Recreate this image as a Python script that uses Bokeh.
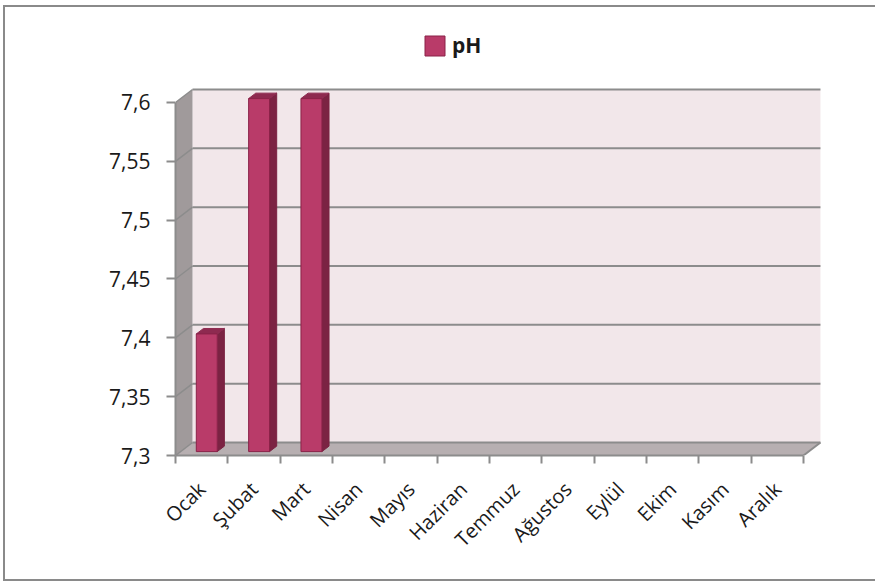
import math
from bokeh.plotting import figure
from bokeh.models import Range1d, FixedTicker, Legend, LegendItem
from bokeh.embed import file_html
from bokeh.resources import INLINE

# ---- data ----
months = ["Ocak", "Şubat", "Mart", "Nisan", "Mayıs", "Haziran", "Temmuz",
          "Ağustos", "Eylül", "Ekim", "Kasım", "Aralık"]
ph_values = [7.4, 7.6, 7.6, None, None, None, None, None, None, None, None, None]
y_ticks = [7.3, 7.35, 7.4, 7.45, 7.5, 7.55, 7.6]
y_tick_labels = ["7,3", "7,35", "7,4", "7,45", "7,5", "7,55", "7,6"]
series_name = "pH"

Y_MIN, Y_MAX = 7.3, 7.6
N = len(months)

# ---- layout (pixels) ----
CANVAS_W, CANVAS_H = 872, 576
FRAME_L, FRAME_T = 170, 13
FRAME_W, FRAME_H = 649, 435
PX_PER_CAT = 52.33
PX_PER_UNIT = 1176.7

# ---- 3D depth (in data units) ----
DX = 17 / PX_PER_CAT       # depth shift along x (categories)
DY = 13 / PX_PER_UNIT      # depth shift along y (pH units)
F0, F1 = 0.30, 0.72        # bar front/back depth fractions
HW = 0.20                  # bar half width

# colors
BACK = "#F2E7EA"
SIDE = "#A09A9B"
FLOOR = "#B7AFB1"
GRID = "#8C8C8C"
BAR_FRONT = "#B93B69"
BAR_SIDE = "#7B2343"
BAR_TOP = "#8E2A50"
BAR_LINE = "#8A2248"
FONT = "Open Sans"
TXT = "#1a1a1a"

x_left, x_right = -0.5, N - 0.5
p = figure(width=CANVAS_W, height=CANVAS_H,
           x_range=Range1d(x_left, x_left + FRAME_W / PX_PER_CAT),
           y_range=Range1d(Y_MIN, Y_MIN + FRAME_H / PX_PER_UNIT),
           output_backend="svg", toolbar_location=None,
           min_border_left=FRAME_L, min_border_right=CANVAS_W - FRAME_L - FRAME_W,
           min_border_top=FRAME_T, min_border_bottom=CANVAS_H - FRAME_T - FRAME_H)
p.styles = {"border-top": "2px solid #8a8a8a",
            "border-left": "2px solid #8a8a8a",
            "border-bottom": "2px solid #8a8a8a",
            "margin-top": "5px", "margin-left": "3px"}
p.xgrid.visible = False
p.ygrid.visible = False
p.outline_line_color = None
p.background_fill_color = "white"

# back wall
p.quad(left=[x_left + DX], right=[x_right + DX], bottom=[Y_MIN + DY], top=[Y_MAX + DY],
       fill_color=BACK, line_color=None)
# side wall
p.patch([x_left, x_left + DX, x_left + DX, x_left],
        [Y_MIN, Y_MIN + DY, Y_MAX + DY, Y_MAX],
        fill_color=SIDE, line_color=None)
# floor
p.patch([x_left, x_right, x_right + DX, x_left + DX],
        [Y_MIN, Y_MIN, Y_MIN + DY, Y_MIN + DY],
        fill_color=FLOOR, line_color=None)

# gridlines on back wall and side wall
p.segment(x0=[x_left + DX] * len(y_ticks), y0=[v + DY for v in y_ticks],
          x1=[x_right + DX] * len(y_ticks), y1=[v + DY for v in y_ticks],
          line_color=GRID, line_width=2)
p.segment(x0=[x_left] * len(y_ticks), y0=y_ticks,
          x1=[x_left + DX] * len(y_ticks), y1=[v + DY for v in y_ticks],
          line_color=GRID, line_width=1.5)
# floor right edge
p.segment(x0=[x_right], y0=[Y_MIN], x1=[x_right + DX], y1=[Y_MIN + DY],
          line_color=GRID, line_width=2)

# bars
fl, fr, fb, ft = [], [], [], []
sx, sy, tx, ty = [], [], [], []
for i, v in enumerate(ph_values):
    if v is None:
        continue
    l0, r0 = i - HW + F0 * DX, i + HW + F0 * DX
    l1, r1 = i - HW + F1 * DX, i + HW + F1 * DX
    b0, b1 = Y_MIN + F0 * DY, Y_MIN + F1 * DY
    t0, t1 = v + F0 * DY, v + F1 * DY
    fl.append(l0); fr.append(r0); fb.append(b0); ft.append(t0)
    sx.append([r0, r1, r1, r0]); sy.append([b0, b1, t1, t0])
    tx.append([l0, r0, r1, l1]); ty.append([t0, t0, t1, t1])

p.patches(sx, sy, fill_color=BAR_SIDE, line_color=BAR_SIDE, line_width=1)
p.patches(tx, ty, fill_color=BAR_TOP, line_color=BAR_TOP, line_width=1)
front = p.quad(left=fl, right=fr, bottom=fb, top=ft,
               fill_color=BAR_FRONT, line_color=BAR_LINE, line_width=1)

# y axis
ya = p.yaxis[0]
ya.ticker = FixedTicker(ticks=y_ticks, minor_ticks=[])
ya.major_label_overrides = dict(zip(y_ticks, y_tick_labels))
ya.bounds = (Y_MIN, Y_MAX)
ya.axis_line_color = GRID
ya.axis_line_width = 2
ya.major_tick_line_color = GRID
ya.major_tick_line_width = 2
ya.major_tick_out = 9
ya.major_tick_in = 0
ya.major_label_standoff = 16
ya.major_label_text_font = FONT
ya.major_label_text_font_size = "21px"
ya.major_label_text_color = TXT

# x axis
xa = p.xaxis[0]
xa.ticker = FixedTicker(ticks=list(range(N)), minor_ticks=[i - 0.5 for i in range(N + 1)])
xa.major_label_overrides = {i: m for i, m in enumerate(months)}
xa.bounds = (x_left, x_right)
xa.axis_line_color = GRID
xa.axis_line_width = 2
xa.major_tick_line_color = None
xa.minor_tick_line_color = GRID
xa.minor_tick_line_width = 2
xa.minor_tick_out = 8
xa.minor_tick_in = 0
xa.major_label_orientation = math.pi / 4
xa.major_label_standoff = 22
xa.major_label_text_font = FONT
xa.major_label_text_font_size = "20px"
xa.major_label_text_color = TXT

legend = Legend(items=[LegendItem(label=series_name, renderers=[front])],
                location=(247, 396), orientation="horizontal",
                glyph_width=25, glyph_height=25, label_standoff=5,
                padding=0, margin=0, border_line_color=None,
                background_fill_alpha=0,
                label_text_font=FONT, label_text_font_style="bold",
                label_text_font_size="21px", label_text_color=TXT)
p.add_layout(legend)

open("out.html", "w").write(file_html(p, INLINE))
